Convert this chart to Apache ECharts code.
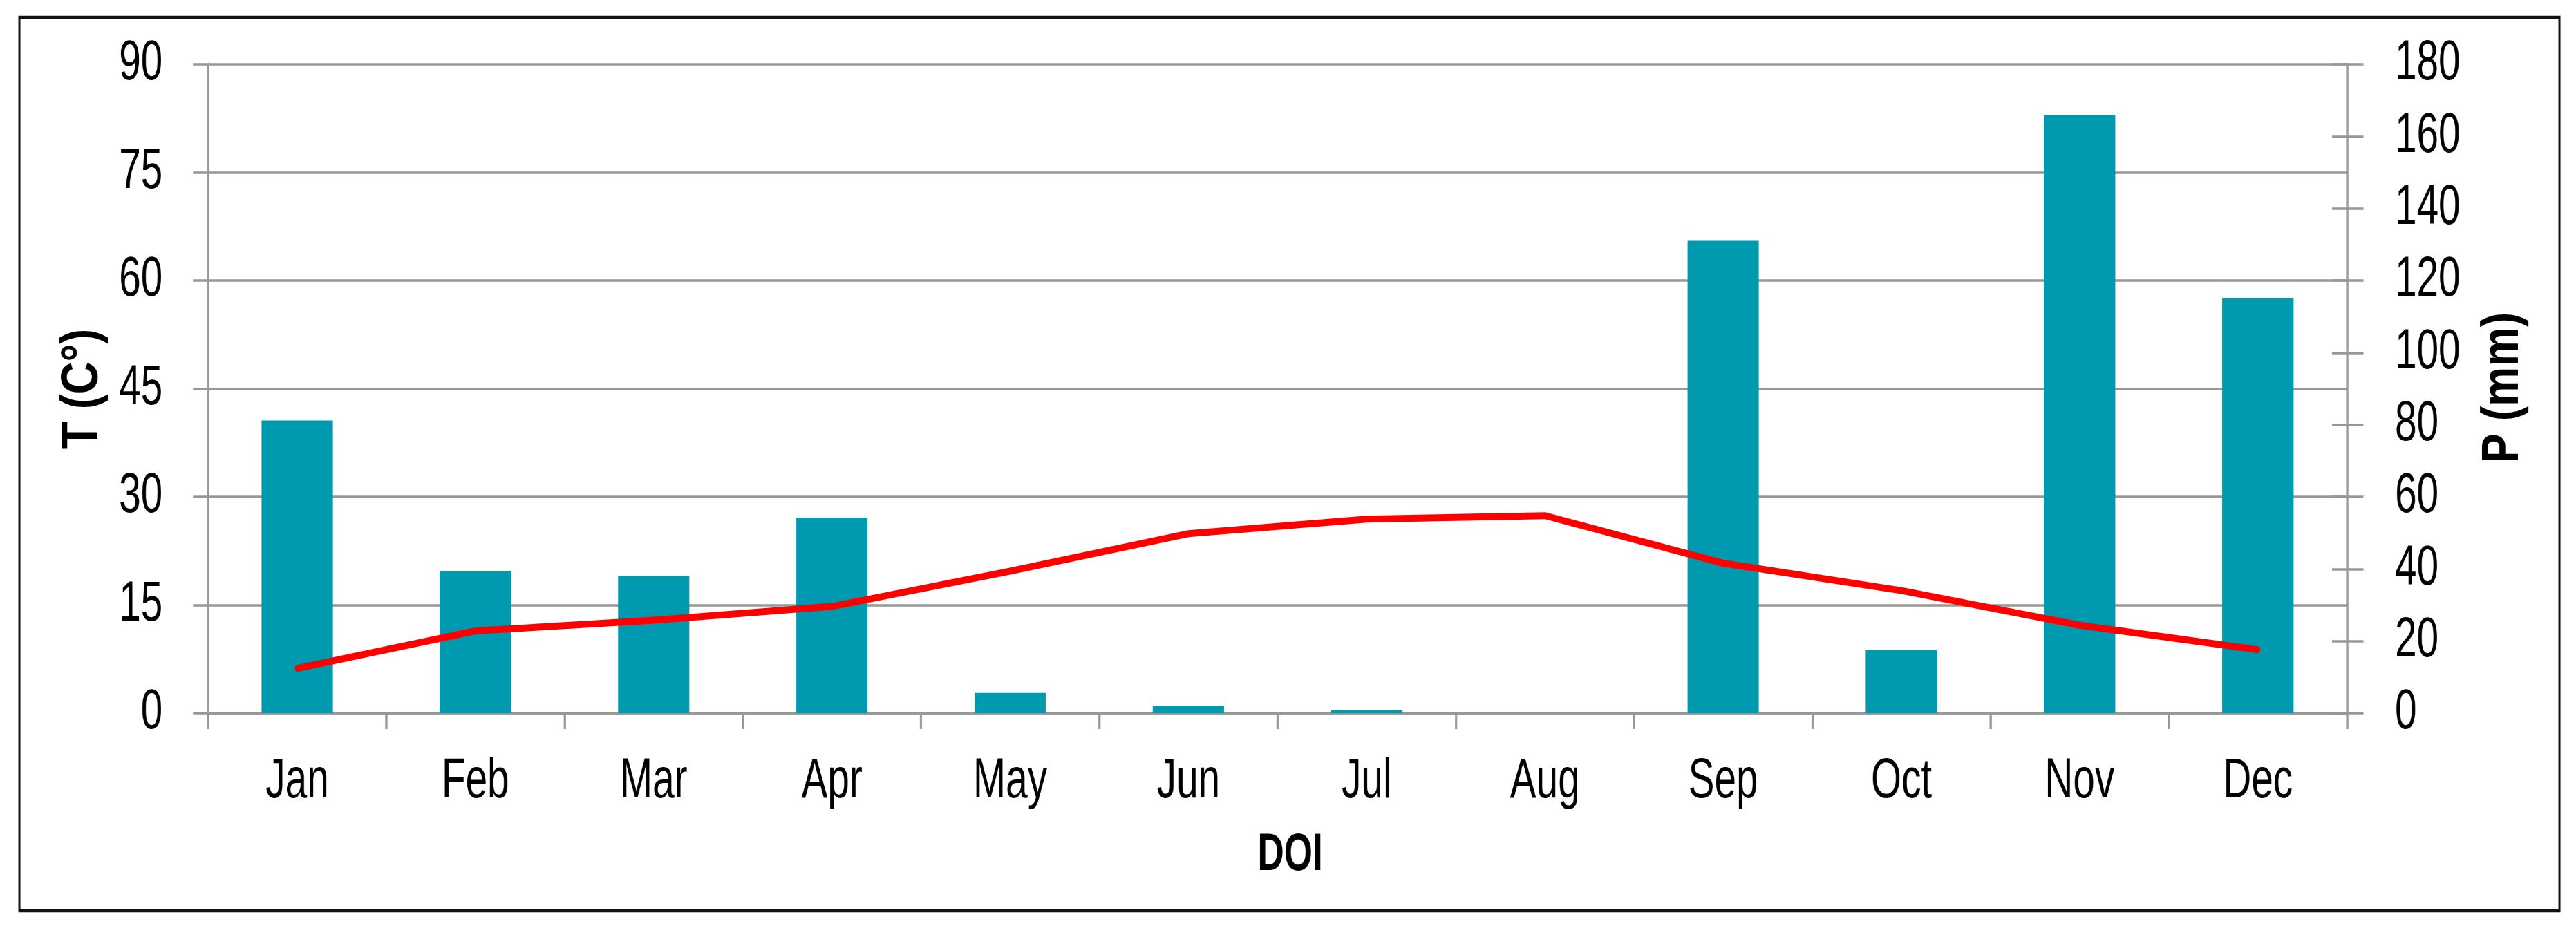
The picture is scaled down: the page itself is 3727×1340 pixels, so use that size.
<!DOCTYPE html>
<html>
<head>
<meta charset="utf-8">
<script src="https://cdn.jsdelivr.net/npm/echarts@6/dist/echarts.min.js"></script>
<style>
  html, body { margin: 0; padding: 0; background: #ffffff; overflow: hidden; }
  #wrap { width: 3727px; height: 1340px; overflow: hidden; position: relative; }
  /* the original figure uses a condensed typeface; emulate it by compressing horizontally */
  #chart { width: 5324px; height: 1340px; transform: scaleX(0.7000); transform-origin: 0 0; }
</style>
</head>
<body>
<div id="wrap"><div id="chart"></div></div>
<script>
// ---- data ----
var months = ['Jan', 'Feb', 'Mar', 'Apr', 'May', 'Jun', 'Jul', 'Aug', 'Sep', 'Oct', 'Nov', 'Dec'];
var precipitation = [81.2, 39.5, 38.1, 54.2, 5.6, 2.0, 0.8, 0, 131.0, 17.5, 166.0, 115.2]; // P (mm)
var temperature = [6.2, 11.4, 12.9, 14.8, 19.7, 24.9, 26.9, 27.4, 20.8, 17.0, 12.2, 8.8];   // T (C°)
var tempTicks = { min: 0, max: 90, interval: 15 };
var precTicks = { min: 0, max: 180, interval: 20 };

var SX = 0.7; // horizontal compression applied by CSS
var FONT = "'Liberation Sans', Arial, sans-serif";
var GRAY = '#979797';
var VW = 3.2 / SX; // width for vertical strokes so they show ~3px after compression

var chart = echarts.init(document.getElementById('chart'), null, { renderer: 'canvas' });
chart.setOption({
  animation: false,
  backgroundColor: '#ffffff',
  grid: { left: 430, right: 473, top: 93, bottom: 308, containLabel: false },
  graphic: [
    {
      type: 'rect',
      shape: { x: 40, y: 25, width: 5250, height: 1293 },
      style: { fill: 'none', stroke: '#111111', lineWidth: 4.5 },
      silent: true, z: 100
    },
    {
      type: 'text', x: 171, y: 563, rotation: Math.PI / 2, scaleX: 0.87, scaleY: 1 / SX,
      style: { text: 'T (C°)', fontFamily: FONT, fontSize: 75, fontWeight: 'bold', fill: '#000',
               textAlign: 'center', textVerticalAlign: 'middle' },
      silent: true
    },
    {
      type: 'text', x: 5174, y: 561, rotation: Math.PI / 2, scaleX: 0.86, scaleY: 1 / SX,
      style: { text: 'P (mm)', fontFamily: FONT, fontSize: 75, fontWeight: 'bold', fill: '#000',
               textAlign: 'center', textVerticalAlign: 'middle' },
      silent: true
    }
  ],
  xAxis: {
    type: 'category',
    data: months,
    boundaryGap: true,
    name: 'DOI',
    nameLocation: 'middle',
    nameGap: 168,
    nameTextStyle: { fontFamily: FONT, fontSize: 76, fontWeight: 'bold', color: '#000', padding: [0, 0, 0, 52] },
    axisLine: { show: true, lineStyle: { color: GRAY, width: 3.5 } },
    axisTick: { show: true, inside: false, length: 23, alignWithLabel: false, lineStyle: { color: GRAY, width: VW } },
    axisLabel: { margin: 59, fontFamily: FONT, fontSize: 81, color: '#000', interval: 0 },
    splitLine: { show: false }
  },
  yAxis: [
    {
      type: 'value', position: 'left',
      min: tempTicks.min, max: tempTicks.max, interval: tempTicks.interval,
      axisLine: { show: true, lineStyle: { color: GRAY, width: VW } },
      axisTick: { show: true, inside: false, length: 31, lineStyle: { color: GRAY, width: 3.5 } },
      axisLabel: { margin: 94, fontFamily: FONT, fontSize: 81, color: '#000' },
      splitLine: { show: true, lineStyle: { color: GRAY, width: 3.5 } }
    },
    {
      type: 'value', position: 'right',
      min: precTicks.min, max: precTicks.max, interval: precTicks.interval,
      axisLine: { show: true, lineStyle: { color: GRAY, width: VW } },
      axisTick: { show: true, inside: false, length: 34, lineStyle: { color: GRAY, width: 3.5 } },
      axisLabel: { margin: 99, fontFamily: FONT, fontSize: 81, color: '#000' },
      splitLine: { show: false }
    },
    {
      type: 'value', position: 'right',
      min: precTicks.min, max: precTicks.max, interval: precTicks.interval,
      axisLine: { show: false },
      axisTick: { show: true, inside: true, length: 31, lineStyle: { color: GRAY, width: 3.5 } },
      axisLabel: { show: false },
      splitLine: { show: false }
    }
  ],
  series: [
    {
      name: 'P (mm)', type: 'bar', yAxisIndex: 1,
      data: precipitation,
      barWidth: '40%',
      itemStyle: { color: '#009AB0' },
      z: 2
    },
    {
      name: 'T (C°)', type: 'line', yAxisIndex: 0,
      data: temperature,
      showSymbol: false, symbol: 'none',
      lineStyle: { color: '#ff0000', width: 10, cap: 'round', join: 'round' },
      z: 3
    }
  ]
});
</script>
</body>
</html>
